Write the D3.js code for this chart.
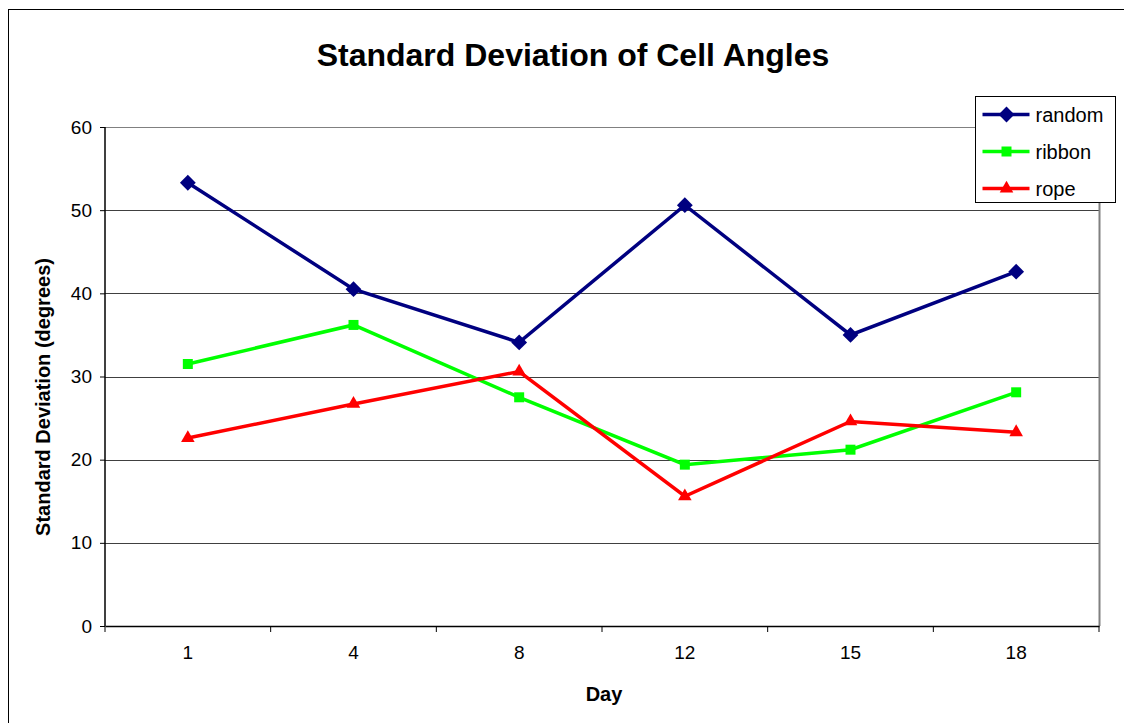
<!DOCTYPE html>
<html>
<head>
<meta charset="utf-8">
<script src="https://cdn.jsdelivr.net/npm/d3@7"></script>
<style>
  body { margin: 0; background: #fff; }
  svg { font-family: Arial, "Liberation Sans", sans-serif; }
</style>
</head>
<body>
<svg id="chart"></svg>
<script>
const days = ["1", "4", "8", "12", "15", "18"];
const random = [53.3, 40.5, 34.1, 50.6, 35.0, 42.6];
const ribbon = [31.5, 36.2, 27.5, 19.4, 21.2, 28.1];
const rope = [22.6, 26.7, 30.6, 15.6, 24.6, 23.3];
const yTicks = [0, 10, 20, 30, 40, 50, 60];

// diamond = square turned 45deg
const series = [
  { name: "random", values: random, color: "#000080", symbol: d3.symbolSquare, size: 125, rot: 45 },
  { name: "ribbon", values: ribbon, color: "#00ff00", symbol: d3.symbolSquare, size: 100, rot: 0 },
  { name: "rope", values: rope, color: "#ff0000", symbol: d3.symbolTriangle, size: 80, rot: 0 }
];

const width = 1124, height = 723;
const margin = { top: 127, right: 25, bottom: 97, left: 105 };

const svg = d3.select("#chart").attr("width", width).attr("height", height);

// outer frame
svg.append("rect")
  .attr("x", 8.5).attr("y", 9.5)
  .attr("width", width - 8).attr("height", height)
  .attr("fill", "#fff").attr("stroke", "#000").attr("stroke-width", 1);

const x = d3.scaleBand()
  .domain(days)
  .range([margin.left, width - margin.right]);

const y = d3.scaleLinear()
  .domain([0, 60])
  .range([height - margin.bottom, margin.top]);

// gridlines
svg.append("g")
  .selectAll("line")
  .data(yTicks.slice(1))
  .join("line")
  .attr("x1", margin.left).attr("x2", width - margin.right)
  .attr("y1", d => Math.round(y(d)) + 0.5).attr("y2", d => Math.round(y(d)) + 0.5)
  .attr("stroke", d => d === 60 ? "#808080" : "#404040")
  .attr("stroke-width", 1);

// right border of plot area
svg.append("line")
  .attr("x1", width - margin.right + 0.5).attr("x2", width - margin.right + 0.5)
  .attr("y1", margin.top).attr("y2", height - margin.bottom)
  .attr("stroke", "#808080").attr("stroke-width", 2);

// y axis
const yAxis = svg.append("g")
  .attr("transform", `translate(${margin.left}, 0)`)
  .call(d3.axisLeft(y).tickValues(yTicks).tickSize(5).tickPadding(8));
yAxis.selectAll("text").attr("font-size", "19px").attr("fill", "#000");
yAxis.selectAll("line, path").attr("stroke", "#000");
yAxis.select(".domain").attr("d", `M0,${y(60)}V${y(0)}`).attr("stroke-width", 1.5);

// x axis
const xAxis = svg.append("g")
  .attr("transform", `translate(0, ${height - margin.bottom})`)
  .call(d3.axisBottom(x).tickSize(0).tickPadding(20));
xAxis.select(".domain").attr("stroke", "#000").attr("stroke-width", 1.5);
xAxis.selectAll("text").attr("font-size", "19px").attr("fill", "#000");
// category separator ticks
xAxis.selectAll("line.sep")
  .data(days.map(d => x(d)).concat([x(days[days.length - 1]) + x.bandwidth()]))
  .join("line")
  .attr("class", "sep")
  .attr("x1", d => d).attr("x2", d => d)
  .attr("y1", 0).attr("y2", 6)
  .attr("stroke", "#000");

// lines and markers
const line = d3.line()
  .x((d, i) => x(days[i]) + x.bandwidth() / 2)
  .y(d => y(d));

series.forEach(s => {
  svg.append("path")
    .datum(s.values)
    .attr("d", line)
    .attr("fill", "none")
    .attr("stroke", s.color)
    .attr("stroke-width", 3.5);

  svg.append("g")
    .selectAll("path")
    .data(s.values)
    .join("path")
    .attr("transform", (d, i) => `translate(${x(days[i]) + x.bandwidth() / 2}, ${y(d)}) rotate(${s.rot})`)
    .attr("d", d3.symbol().type(s.symbol).size(s.size))
    .attr("fill", s.color);
});

// title
svg.append("text")
  .attr("x", 573).attr("y", 66)
  .attr("text-anchor", "middle")
  .attr("font-size", "32px").attr("font-weight", "bold")
  .text("Standard Deviation of Cell Angles");

// axis titles
svg.append("text")
  .attr("x", 604).attr("y", 701)
  .attr("text-anchor", "middle")
  .attr("font-size", "20px").attr("font-weight", "bold")
  .text("Day");

svg.append("text")
  .attr("transform", "translate(50, 397) rotate(-90)")
  .attr("text-anchor", "middle")
  .attr("font-size", "20px").attr("font-weight", "bold")
  .text("Standard Deviation (degrees)");

// legend
const legend = svg.append("g").attr("transform", "translate(975.5, 96.5)");
legend.append("rect")
  .attr("width", 140).attr("height", 106)
  .attr("fill", "#fff").attr("stroke", "#000");
series.forEach((s, i) => {
  const g = legend.append("g").attr("transform", `translate(0, ${18 + i * 37})`);
  g.append("line")
    .attr("x1", 7).attr("x2", 54)
    .attr("stroke", s.color).attr("stroke-width", 3.5);
  g.append("path")
    .attr("transform", `translate(31, 0) rotate(${s.rot})`)
    .attr("d", d3.symbol().type(s.symbol).size(s.size))
    .attr("fill", s.color);
  g.append("text")
    .attr("x", 60).attr("dy", "0.35em")
    .attr("font-size", "20px")
    .text(s.name);
});
</script>
</body>
</html>
